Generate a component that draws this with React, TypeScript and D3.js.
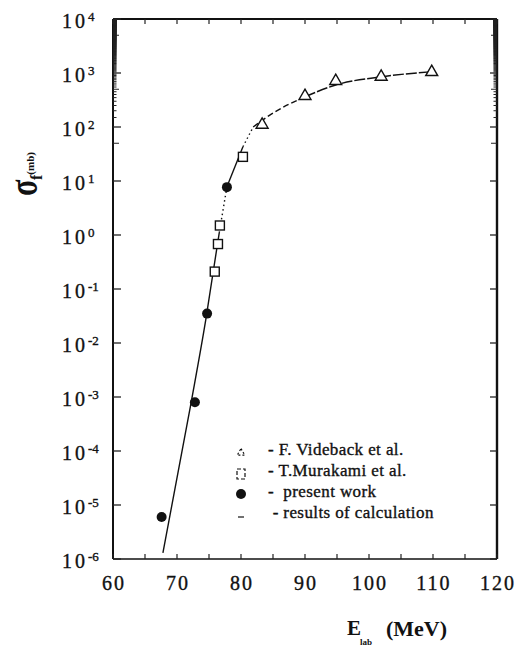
import * as d3 from "d3";

// F. Videback et al. (open triangles)
const videbackE = [83.3, 90.0, 94.8, 101.9, 109.8];
const videbackS = [110, 375, 710, 850, 1040];

// T. Murakami et al. (open squares)
const murakamiE = [75.9, 76.4, 76.7, 80.3];
const murakamiS = [0.21, 0.68, 1.5, 28];

// present work (filled circles)
const presentE = [67.6, 72.8, 74.7, 77.8];
const presentS = [6e-6, 8e-4, 0.035, 7.7];

// results of calculation
const calcE = [67.8, 72.2, 74.5, 76.6, 77.8, 80.3, 81.9, 84.5, 90.0, 94.8, 101.9, 109.5];
const calcS = [1.3e-6, 7.8e-4, 0.027, 1.1, 7.8, 43, 100, 166, 363, 600, 850, 1050];

// line style per piece of the calculated curve: [first index, last index, dasharray]
const calcPieces: [number, number, string][] = [
  [0, 3, "none"],
  [3, 4, "1.5,3"],
  [4, 5, "none"],
  [5, 6, "1.5,3"],
  [6, 8, "6,3"],
  [8, 11, "11,2"],
];

const xTicks = [60, 70, 80, 90, 100, 110, 120];
const yExponents = [4, 3, 2, 1, 0, -1, -2, -3, -4, -5, -6];

const legendLabels = [
  "- F. Videback et al.",
  "- T.Murakami et al.",
  "-  present work",
  " - results of calculation",
];

const width = 518;
const height = 646;
const plot = { left: 113, top: 19, right: 497, bottom: 559 };
const font = "'Liberation Serif', 'DejaVu Serif', serif";
const ink = "#111";

export default function App() {
  const x = d3.scaleLinear([60, 120], [plot.left, plot.right]);
  const y = d3.scaleLog([1e-6, 1e4], [plot.bottom, plot.top]);

  const calcPts: [number, number][] = calcE.map((e, i) => [e, calcS[i]]);
  const line = d3
    .line<[number, number]>()
    .x((d) => x(d[0]))
    .y((d) => y(d[1]))
    .curve(d3.curveMonotoneX);

  // log ticks: decades are major, 2..9 are minor
  const allY = y.ticks(200);
  const minorY = allY.filter((v) => Math.abs(Math.log10(v) - Math.round(Math.log10(v))) > 1e-6);
  const fiveTicks = d3.range(60, 121, 5);

  const tri = d3.symbol(d3.symbolTriangle, 62)();

  // scanned print looks heavy, thicken the glyphs a bit
  const textInk = { fill: ink, stroke: ink, strokeWidth: 0.35 };

  return (
    <svg
      width={width}
      height={height}
      style={{ position: "absolute", left: 0, top: 0, background: "#fff" }}
      fontFamily={font}
    >
      <rect width={width} height={height} fill="#fff" />

      {/* frame */}
      <g stroke={ink} fill="none">
        <line x1={plot.left} x2={plot.left} y1={plot.top} y2={plot.bottom} strokeWidth={2} />
        <line x1={plot.left} x2={plot.right} y1={plot.bottom} y2={plot.bottom} strokeWidth={1.6} />
        <line x1={plot.right} x2={plot.right} y1={plot.top} y2={plot.bottom} strokeWidth={2.4} />
        <line x1={plot.left} x2={plot.right} y1={plot.top} y2={plot.top} strokeWidth={2} />
      </g>

      {/* y ticks, left and right, pointing inward */}
      <g stroke="#222" strokeWidth={1}>
        {yExponents.map((p) => (
          <g key={p}>
            <line x1={plot.left} x2={plot.left + 8} y1={y(10 ** p)} y2={y(10 ** p)} strokeWidth={1.3} />
            <line x1={plot.right} x2={plot.right - 7} y1={y(10 ** p)} y2={y(10 ** p)} strokeWidth={1.3} />
          </g>
        ))}
        {minorY.map((v, i) => {
          const five = Math.abs(v / 10 ** Math.floor(Math.log10(v) + 1e-9) - 5) < 1e-6;
          const len = five ? 6 : 3.5;
          return (
            <g key={i}>
              <line x1={plot.left} x2={plot.left + len} y1={y(v)} y2={y(v)} />
              <line x1={plot.right} x2={plot.right - len} y1={y(v)} y2={y(v)} />
            </g>
          );
        })}
      </g>

      {/* x ticks, top and bottom */}
      <g stroke="#222" strokeWidth={1.2}>
        {fiveTicks.map((t) => (
          <g key={t}>
            <line x1={x(t)} x2={x(t)} y1={plot.bottom} y2={plot.bottom - 5} />
            <line x1={x(t)} x2={x(t)} y1={plot.top} y2={plot.top + 5} />
          </g>
        ))}
      </g>

      {/* y tick labels */}
      <g {...textInk}>
        {yExponents.map((p) => (
          <text key={p} x={62} y={y(10 ** p) + 8.5} fontSize={20} letterSpacing={3}>
            10
            <tspan fontSize={13} dy={-7} letterSpacing={0}>
              {p}
            </tspan>
          </text>
        ))}
      </g>

      {/* x tick labels */}
      <g {...textInk} textAnchor="middle">
        {xTicks.map((t) => (
          <text key={t} x={x(t) + 1} y={590} fontSize={20} letterSpacing={2}>
            {t}
          </text>
        ))}
      </g>

      {/* axis titles */}
      <text x={347} y={635} fontSize={21} fontWeight="bold" fill={ink}>
        E
      </text>
      <text x={360} y={645} fontSize={9} fontWeight="bold" fill={ink}>
        lab
      </text>
      <text x={386} y={636} fontSize={22} fontWeight="bold" fill={ink}>
        (MeV)
      </text>

      <text
        transform="translate(37,196) rotate(-90) scale(1,1.35)"
        fill={ink}
        fontWeight="bold"
        fontSize={30}
      >
        σ
      </text>
      <text transform="translate(37,180) rotate(-90)" fill={ink} fontWeight="bold">
        <tspan fontSize={16} dy={5}>
          f
        </tspan>
        <tspan fontSize={11} dy={-8}>
          (mb)
        </tspan>
      </text>

      {/* calculated curve */}
      <g fill="none" stroke={ink} strokeWidth={1.4}>
        {calcPieces.map(([a, b, dash], i) => (
          <path key={i} d={line(calcPts.slice(a, b + 1)) ?? ""} strokeDasharray={dash} />
        ))}
      </g>

      {/* data */}
      <g fill="#fff" stroke={ink} strokeWidth={1.4}>
        {videbackE.map((e, i) => (
          <path key={i} d={tri ?? ""} transform={`translate(${x(e)},${y(videbackS[i])})`} />
        ))}
        {murakamiE.map((e, i) => (
          <rect key={i} x={x(e) - 4.5} y={y(murakamiS[i]) - 4.5} width={9} height={9} />
        ))}
      </g>
      <g fill={ink}>
        {presentE.map((e, i) => (
          <circle key={i} cx={x(e)} cy={y(presentS[i])} r={5} />
        ))}
      </g>

      {/* legend */}
      <g stroke={ink} strokeWidth={1.2} fill="none">
        <path d={d3.symbol(d3.symbolTriangle, 25)() ?? ""} transform="translate(241,453)" strokeDasharray="2,2" />
        <rect x={237} y={469} width={8} height={10} strokeDasharray="4,2" />
        <circle cx={241} cy={494} r={5} fill={ink} stroke="none" />
        <line x1={238} x2={244} y1={517} y2={517} />
      </g>
      <g {...textInk} fontSize={17} letterSpacing={0.4}>
        {legendLabels.map((s, i) => (
          <text key={i} x={268} y={455 + i * 21} style={{ whiteSpace: "pre" }}>
            {s}
          </text>
        ))}
      </g>
    </svg>
  );
}
